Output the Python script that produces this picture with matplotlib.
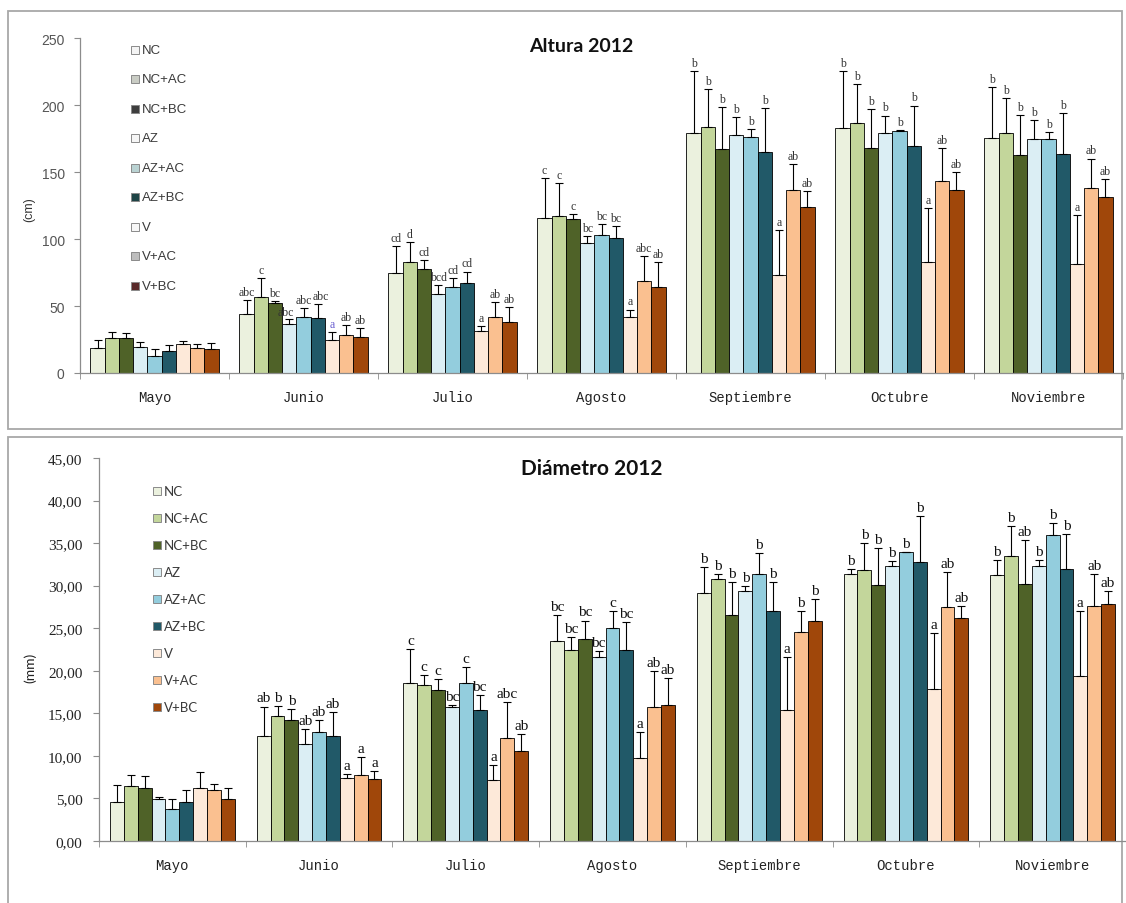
import numpy as np
import matplotlib
matplotlib.use("Agg")
import matplotlib.pyplot as plt
from matplotlib.patches import Rectangle

# ---------------------------------------------------------------- data
months = ["Mayo", "Junio", "Julio", "Agosto", "Septiembre", "Octubre", "Noviembre"]
treatments = ["NC", "NC+AC", "NC+BC", "AZ", "AZ+AC", "AZ+BC", "V", "V+AC", "V+BC"]

# Altura (cm): mean per treatment and month
alt_NC = [18.3, 43.7, 75.0, 115.8, 179.0, 182.7, 175.8]
alt_NC_AC = [26.0, 57.0, 82.7, 117.3, 184.0, 186.9, 179.5]
alt_NC_BC = [26.0, 52.3, 77.5, 115.3, 167.2, 168.4, 162.7]
alt_AZ = [19.5, 36.3, 59.0, 96.8, 177.5, 179.5, 174.6]
alt_AZ_AC = [12.8, 41.7, 64.4, 103.0, 176.5, 180.7, 174.6]
alt_AZ_BC = [16.5, 41.2, 66.9, 100.5, 164.7, 169.6, 163.7]
alt_V = [21.5, 24.7, 31.4, 41.7, 73.3, 83.2, 81.7]
alt_V_AC = [19.0, 28.4, 42.2, 68.9, 137.0, 143.7, 138.0]
alt_V_BC = [17.8, 26.9, 38.3, 64.0, 123.7, 137.0, 131.1]

# Altura (cm): upper error
alt_err_NC = [6.1, 11.1, 20.0, 29.9, 46.4, 42.7, 37.8]
alt_err_NC_AC = [4.6, 13.9, 15.1, 24.4, 28.0, 28.7, 25.9]
alt_err_NC_BC = [4.0, 1.3, 6.9, 3.7, 31.6, 28.9, 30.3]
alt_err_AZ = [4.0, 3.7, 6.4, 5.7, 13.4, 12.8, 14.3]
alt_err_AZ_AC = [5.0, 6.9, 6.5, 8.6, 5.5, 0.8, 5.4]
alt_err_AZ_BC = [4.5, 10.4, 8.9, 9.1, 33.3, 30.2, 30.6]
alt_err_V = [2.5, 6.2, 3.6, 5.7, 33.4, 40.0, 36.1]
alt_err_V_AC = [2.5, 7.4, 10.9, 18.8, 18.8, 24.2, 22.2]
alt_err_V_BC = [4.4, 6.9, 10.8, 18.7, 12.3, 13.4, 13.9]

# Altura: significance letters (one list per month, treatments in order)
alt_letters = [
    [""] * 9,
    ["abc", "c", "bc", "abc", "abc", "abc", "a", "ab", "ab"],
    ["cd", "d", "cd", "bcd", "cd", "cd", "a", "ab", "ab"],
    ["c", "c", "c", "bc", "bc", "bc", "a", "abc", "ab"],
    ["b", "b", "b", "b", "b", "b", "a", "ab", "ab"],
    ["b", "b", "b", "b", "b", "b", "a", "ab", "ab"],
    ["b", "b", "b", "b", "b", "b", "a", "ab", "ab"],
]

# Diámetro (mm): mean per treatment and month
dia_NC = [4.57, 12.3, 18.6, 23.5, 29.1, 31.4, 31.25]
dia_NC_AC = [6.45, 14.7, 18.3, 22.5, 30.8, 31.8, 33.5]
dia_NC_BC = [6.2, 14.2, 17.7, 23.7, 26.6, 30.1, 30.2]
dia_AZ = [4.88, 11.4, 15.7, 21.6, 29.4, 32.3, 32.3]
dia_AZ_AC = [3.8, 12.8, 18.55, 25.0, 31.4, 33.9, 36.0]
dia_AZ_BC = [4.57, 12.3, 15.4, 22.4, 27.0, 32.8, 32.0]
dia_V = [6.2, 7.4, 7.2, 9.8, 15.4, 17.9, 19.4]
dia_V_AC = [6.0, 7.8, 12.1, 15.8, 24.6, 27.5, 27.6]
dia_V_BC = [4.96, 7.3, 10.6, 16.0, 25.9, 26.25, 27.8]

# Diámetro (mm): upper error
dia_err_NC = [2.0, 3.5, 4.0, 3.1, 3.1, 0.6, 1.75]
dia_err_NC_AC = [1.25, 1.2, 1.2, 1.5, 0.6, 3.2, 3.5]
dia_err_NC_BC = [1.4, 1.3, 1.3, 2.2, 3.8, 4.3, 5.15]
dia_err_AZ = [0.32, 1.8, 0.3, 0.7, 0.6, 0.6, 0.7]
dia_err_AZ_AC = [1.1, 1.4, 1.85, 2.0, 2.4, 0.1, 1.4]
dia_err_AZ_BC = [1.43, 2.8, 1.7, 3.3, 3.4, 5.4, 4.1]
dia_err_V = [1.9, 0.5, 1.7, 3.0, 6.2, 6.5, 7.6]
dia_err_V_AC = [0.7, 2.1, 4.2, 4.2, 2.4, 4.1, 3.8]
dia_err_V_BC = [1.24, 0.9, 2.0, 3.2, 2.5, 1.35, 1.6]

dia_letters = [
    [""] * 9,
    ["ab", "b", "b", "ab", "ab", "ab", "a", "a", "a"],
    ["c", "c", "c", "bc", "c", "bc", "a", "abc", "ab"],
    ["bc", "bc", "bc", "bc", "c", "bc", "a", "ab", "ab"],
    ["b", "b", "b", "b", "b", "b", "a", "b", "b"],
    ["b", "b", "b", "b", "b", "b", "a", "ab", "ab"],
    ["b", "b", "ab", "b", "b", "b", "a", "ab", "ab"],
]

alt_means = [alt_NC, alt_NC_AC, alt_NC_BC, alt_AZ, alt_AZ_AC, alt_AZ_BC, alt_V, alt_V_AC, alt_V_BC]
alt_errs = [alt_err_NC, alt_err_NC_AC, alt_err_NC_BC, alt_err_AZ, alt_err_AZ_AC,
            alt_err_AZ_BC, alt_err_V, alt_err_V_AC, alt_err_V_BC]
dia_means = [dia_NC, dia_NC_AC, dia_NC_BC, dia_AZ, dia_AZ_AC, dia_AZ_BC, dia_V, dia_V_AC, dia_V_BC]
dia_errs = [dia_err_NC, dia_err_NC_AC, dia_err_NC_BC, dia_err_AZ, dia_err_AZ_AC,
            dia_err_AZ_BC, dia_err_V, dia_err_V_AC, dia_err_V_BC]

colors = ["#EBF1DE", "#C3D69B", "#4F6228", "#DBEEF4", "#93CDDD",
          "#215968", "#FDE9D9", "#FAC090", "#A0470A"]
# the height chart's key uses washed-out swatches
alt_key_colors = ["#F4F4F4", "#C9CCC4", "#3E3E3E", "#F6F6F6", "#B9D2D2",
                  "#1E4446", "#F7F7F7", "#BDBDBD", "#5A2A2A"]

# ---------------------------------------------------------------- figure
W, H = 1126, 904
fig = plt.figure(figsize=(W / 100, H / 100), dpi=100)
fig.patch.set_facecolor("white")


def fx(px):
    return px / W


def fy(py):
    return 1 - py / H


# panel frames
for (x0, y0, x1, y1) in [(8, 12, 1122, 430), (8, 438, 1122, 906)]:
    fig.add_artist(Rectangle((fx(x0), fy(y1)), fx(x1) - fx(x0), fy(y0) - fy(y1),
                             transform=fig.transFigure, fill=False,
                             edgecolor="#A8A8A8", lw=1.3, zorder=0))

AXIS_GRAY = "#8C8C8C"


def draw_panel(ax, means, errs, letters, group_frac, label_kw, top_ylim,
               nudges=None):
    n = len(treatments)
    bw = group_frac / n
    x = np.arange(len(months))
    nudges = nudges or {}
    for j in range(n):
        xs = x + (j - (n - 1) / 2) * bw
        m = np.array(means[j])
        e = np.array(errs[j])
        ax.bar(xs, m, width=bw, color=colors[j], edgecolor="black",
               linewidth=0.6, zorder=2)
        ax.errorbar(xs, m, yerr=[np.zeros_like(e), e], fmt="none",
                    ecolor="black", elinewidth=0.8, capsize=3, capthick=0.8,
                    zorder=3)
        for i in range(len(months)):
            lab = letters[i][j]
            if lab:
                kw = dict(label_kw)
                if callable(kw.get("color")):
                    kw["color"] = kw["color"](i, j)
                dx, dy = nudges.get((i, j), (0, 1.5))
                ax.annotate(lab, (xs[i], m[i] + e[i]), xytext=(dx, dy),
                            textcoords="offset points", ha="center",
                            va="bottom", zorder=4, **kw)
    ax.set_xlim(-0.5, len(months) - 0.5)
    ax.set_ylim(0, top_ylim)
    for s in ["top", "right"]:
        ax.spines[s].set_visible(False)
    for s in ["left", "bottom"]:
        ax.spines[s].set_color(AXIS_GRAY)
        ax.spines[s].set_linewidth(0.9)
    ax.set_xticks(x)
    ax.set_xticklabels(months, family="Liberation Mono", fontsize=10,
                       color="#222222")
    ax.tick_params(axis="x", which="major", length=0, pad=12)
    ax.set_xticks(np.arange(len(months) + 1) - 0.5, minor=True)
    ax.tick_params(axis="x", which="minor", length=4, direction="out",
                   color=AXIS_GRAY)
    ax.tick_params(axis="y", length=4, direction="out", color=AXIS_GRAY)
    ax.set_facecolor("none")


# ---------------------------------------------------------------- Altura
ax1 = fig.add_axes([fx(80), fy(374), fx(1123) - fx(80), fy(39.3) - fy(374)])


def alt_letter_color(i, j):
    # the Junio "a" on V is printed in blue
    return "#6A5FD0" if (i == 1 and j == 6) else "#333333"


# crowded Junio letters are spread a little sideways
junio_nudges = {(1, 3): (-2.5, 1.0), (1, 5): (2.0, 1.5)}
draw_panel(ax1, alt_means, alt_errs, alt_letters, 0.86,
           dict(family="Liberation Serif", fontsize=8.5, color=alt_letter_color),
           250, nudges=junio_nudges)
ax1.set_yticks(np.arange(0, 251, 50))
ax1.set_yticklabels([str(v) for v in range(0, 251, 50)],
                    family="Liberation Sans", fontsize=10, color="#555555")
ax1.tick_params(axis="y", pad=7)
fig.text(fx(581), fy(47), "Altura 2012", family="Lato", fontweight="bold",
         fontsize=14, ha="center", va="center", color="#111111")
fig.text(fx(29), fy(210), "(cm)", rotation=90, family="Liberation Sans",
         fontsize=9, ha="center", va="center", color="#333333")

# key of the height chart
for k, name in enumerate(treatments):
    yc = 50.7 + k * 29.5
    fig.add_artist(Rectangle((fx(131), fy(yc + 4)), fx(8), 8 / H,
                             transform=fig.transFigure, facecolor=alt_key_colors[k],
                             edgecolor="#8A8A8A", lw=0.7))
    fig.text(fx(142), fy(yc), name, family="Liberation Sans", fontsize=9.5,
             ha="left", va="center", color="#3A3A3A")

# ---------------------------------------------------------------- Diámetro
ax2 = fig.add_axes([fx(99), fy(842), fx(1126) - fx(99), fy(459) - fy(842)])
draw_panel(ax2, dia_means, dia_errs, dia_letters, 0.85,
           dict(family="Liberation Serif", fontsize=11, color="#111111"), 45)
ax2.set_yticks(np.arange(0, 46, 5))
ax2.set_yticklabels([f"{v:.2f}".replace(".", ",") for v in range(0, 46, 5)],
                    family="Liberation Serif", fontsize=11, color="#222222")
ax2.tick_params(axis="y", pad=8)
fig.text(fx(592), fy(469), "Diámetro 2012", family="Lato", fontweight="bold",
         fontsize=15, ha="center", va="center", color="#111111")
fig.text(fx(30), fy(668), "(mm)", rotation=90, family="Lato",
         fontsize=10, ha="center", va="center", color="#222222")

# key of the diameter chart
for k, name in enumerate(treatments):
    yc = 492 + k * 27
    fig.add_artist(Rectangle((fx(153), fy(yc + 4)), fx(8), 8 / H,
                             transform=fig.transFigure, facecolor=colors[k],
                             edgecolor="#8A8A8A", lw=0.7))
    fig.text(fx(164), fy(yc), name, family="Lato", fontsize=9.5,
             ha="left", va="center", color="#3A3A3A")

fig.savefig("out.png", dpi=100, facecolor="white")
